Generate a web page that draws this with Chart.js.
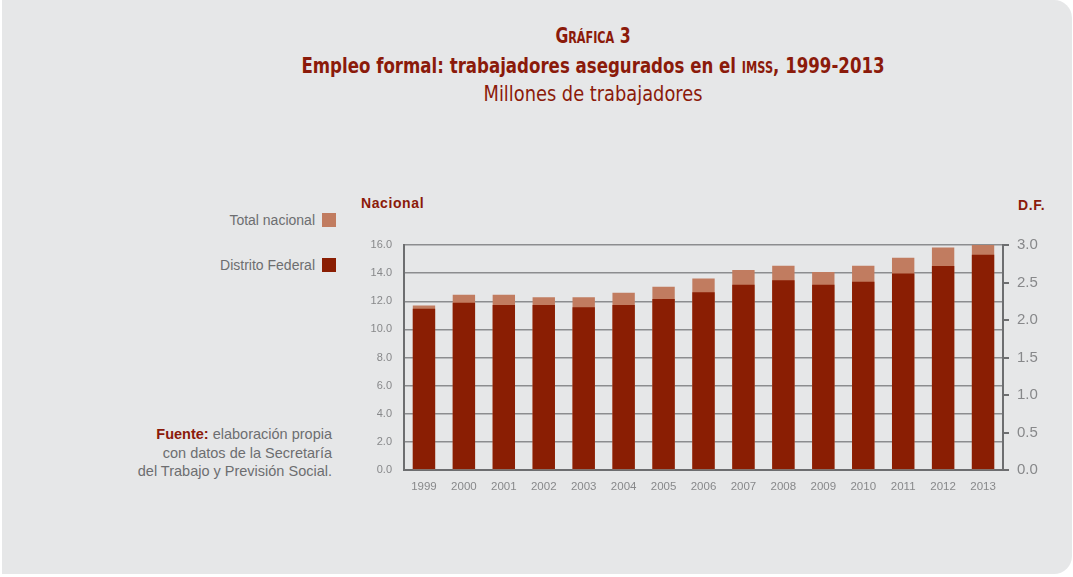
<!DOCTYPE html>
<html>
<head>
<meta charset="utf-8">
<script src="https://cdn.jsdelivr.net/npm/chart.js@4"></script>
<style>
  body { margin: 0; background: #fff; width: 1073px; height: 577px; overflow: hidden; position: relative; font-family: "Liberation Sans", Arial, sans-serif; }
  .panel { position: absolute; left: 2px; top: 0; width: 1070px; height: 574px; background: #e6e7e8; border-radius: 0 18px 18px 0; }
  .t { position: absolute; left: 0; width: 1186px; text-align: center; color: #8b1a0a; font-family: "DejaVu Sans Condensed", sans-serif; white-space: nowrap; transform-origin: 593px 50%; }
  .sc { font-variant: small-caps; }
  .leg { position: absolute; right: 737px; font-size: 14px; color: #6d6e70; white-space: nowrap; }
  .sq { display: inline-block; width: 14px; height: 14px; vertical-align: -2px; margin-left: 7px; }
  .ax { position: absolute; font-weight: bold; font-size: 14px; letter-spacing: 0.6px; color: #8b1a0a; }
  .src { position: absolute; right: 741px; top: 425px; text-align: right; font-size: 14.5px; line-height: 18.5px; color: #6d6e70; }
  #wrap { position: absolute; left: 340px; top: 190px; width: 720px; height: 310px; }
</style>
</head>
<body>
<div class="panel"></div>
<div class="t sc" style="top:24px;font-size:21px;font-weight:bold;transform:scaleX(0.83);">Gráfica 3</div>
<div class="t" style="top:53px;font-size:22px;font-weight:bold;transform:scaleX(0.84);">Empleo formal: trabajadores asegurados en el <span class="sc">imss</span>, 1999-2013</div>
<div class="t" style="top:81px;font-size:22px;transform:scaleX(0.9);">Millones de trabajadores</div>

<div class="leg" style="top:212px;">Total nacional<span class="sq" style="background:#c17c60"></span></div>
<div class="leg" style="top:257px;">Distrito Federal<span class="sq" style="background:#8a1e03"></span></div>
<div class="ax" style="left:361px;top:195px;">Nacional</div>
<div class="ax" style="left:1018px;top:197px;">D.F.</div>
<div class="src"><b style="color:#8b1a0a">Fuente:</b> elaboración propia<br>con datos de la Secretaría<br>del Trabajo y Previsión Social.</div>

<div id="wrap"><canvas id="c" width="720" height="310"></canvas></div>

<script>
const years = ['1999', '2000', '2001', '2002', '2003', '2004', '2005', '2006', '2007', '2008', '2009', '2010', '2011', '2012', '2013'];
// millones de trabajadores, eje izquierdo
const totalNacional = [11.70, 12.46, 12.46, 12.29, 12.29, 12.60, 13.03, 13.62, 14.22, 14.53, 14.08, 14.53, 15.10, 15.83, 16.0];
// millones de trabajadores, eje derecho
const distritoFederal = [2.15, 2.23, 2.20, 2.20, 2.17, 2.20, 2.28, 2.37, 2.47, 2.53, 2.47, 2.51, 2.62, 2.72, 2.87];

const axisColor = '#6d6e70';
const tickColor = '#87888a';

const ctx = document.getElementById('c').getContext('2d');
new Chart(ctx, {
  type: 'bar',
  data: {
    labels: years,
    datasets: [
      {
        label: 'Distrito Federal',
        data: distritoFederal,
        yAxisID: 'yDF',
        backgroundColor: '#8a1e03',
      },
      {
        label: 'Total nacional',
        data: totalNacional,
        yAxisID: 'y',
        backgroundColor: '#c17c60',
      },
    ],
  },
  options: {
    responsive: false,
    animation: false,
    events: [],
    layout: { padding: { top: 55, left: 0, right: 0, bottom: 0 } },
    datasets: {
      bar: { grouped: false, barPercentage: 0.56, categoryPercentage: 1 },
    },
    scales: {
      x: {
        grid: { display: false },
        border: { display: true, color: axisColor, width: 2 },
        ticks: { color: tickColor, font: { size: 11.5, family: 'Liberation Sans' }, padding: 2, maxRotation: 0 },
        afterFit: (s) => { s.height = 30; },
      },
      y: {
        position: 'left',
        min: 0,
        max: 16,
        ticks: {
          stepSize: 2,
          color: tickColor,
          padding: 12,
          font: { size: 11, family: 'Liberation Sans' },
          callback: (v) => v.toFixed(1),
        },
        grid: { color: '#8c8d8f', lineWidth: 1.5, drawTicks: false },
        border: { display: true, color: axisColor, width: 2 },
        afterFit: (s) => { s.width = 64; },
      },
      yDF: {
        position: 'right',
        min: 0,
        max: 3,
        ticks: {
          stepSize: 0.5,
          color: tickColor,
          padding: 8,
          font: { size: 15, family: 'Liberation Sans' },
          callback: (v) => v.toFixed(1),
        },
        grid: { drawOnChartArea: false, color: axisColor, lineWidth: 2, tickLength: 6 },
        border: { display: true, color: axisColor, width: 2 },
        afterFit: (s) => { s.width = 57; },
      },
    },
    plugins: {
      legend: { display: false },
      tooltip: { enabled: false },
    },
  },
});
</script>
</body>
</html>
